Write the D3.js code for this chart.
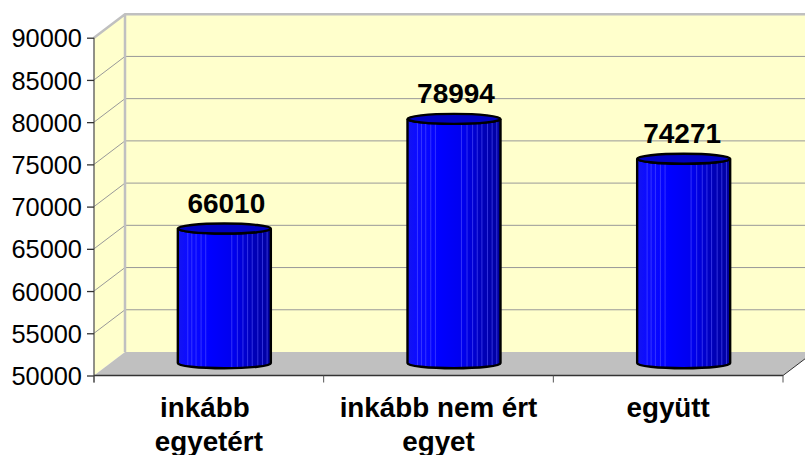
<!DOCTYPE html>
<html><head><meta charset="utf-8">
<script src="https://cdn.jsdelivr.net/npm/d3@7/dist/d3.min.js"></script>
<style>html,body{margin:0;padding:0;background:#fff}svg{display:block}
text{font-family:"Liberation Sans",Arial,sans-serif;fill:#000}</style></head>
<body><svg id="c" width="805" height="455"></svg>
<script>
const categories = [["inkább","egyetért"],["inkább nem ért","egyet"],["együtt"]];
const values = [66010,78994,74271];
const tickValues = [50000,55000,60000,65000,70000,75000,80000,85000,90000];

const W=805,H=455;
const svg=d3.select("#c");
const y=d3.scaleLinear().domain([50000,90000]).range([375.5,37.7]);
const x=d3.scaleBand().domain(d3.range(categories.length)).range([94,783]);
const dx=31,dy=-23.5;
const xR=x.range()[1], xL=x.range()[0];

const defs=svg.append("defs");
const grad=defs.append("linearGradient").attr("id","cyl");
[[0,"#1414f0"],[0.1,"#0c0cff"],[0.35,"#0000ff"],[0.6,"#0000ee"],[0.8,"#0000bb"],[1,"#00009c"]]
 .forEach(s=>grad.append("stop").attr("offset",s[0]).attr("stop-color",s[1]));
const streaks=[.107,.15,.196,.25,.30,.58,.64,.70,.75,.80,.86,.91,.96];

svg.append("polygon").attr("fill","#FFFFCC")
  .attr("points",[[xL+dx,y(90000)+dy],[W+40,y(90000)+dy],[W+40,y(50000)+dy],[xL+dx,y(50000)+dy]].join(" "));
svg.append("polygon").attr("fill","#FFFFCC")
  .attr("points",[[xL,y(90000)],[xL+dx,y(90000)+dy],[xL+dx,y(50000)+dy],[xL,y(50000)]].join(" "));
svg.append("polygon").attr("fill","#C0C0C0")
  .attr("points",[[xL,y(50000)],[xL+dx,y(50000)+dy],[xR+dx,y(50000)+dy],[xR,y(50000)]].join(" "));

const grid=tickValues.filter(t=>t>50000&&t<90000);
svg.selectAll(".gb").data(grid).join("line")
  .attr("x1",xL+dx).attr("x2",W).attr("y1",d=>y(d)+dy).attr("y2",d=>y(d)+dy)
  .attr("stroke","#999").attr("stroke-width",1);
svg.selectAll(".gs").data(grid).join("line")
  .attr("x1",xL).attr("x2",xL+dx).attr("y1",d=>y(d)).attr("y2",d=>y(d)+dy)
  .attr("stroke","#999").attr("stroke-width",1);
svg.append("path").attr("fill","none").attr("stroke","#C0C0C0").attr("stroke-width",2.5)
  .attr("d",`M${xL},${y(90000)}L${xL+dx},${y(90000)+dy}L${W},${y(90000)+dy}M${xL+dx},${y(90000)+dy}L${xL+dx},${y(50000)+dy}`);

const axL=d3.axisLeft(y).tickValues(tickValues).tickSize(7).tickPadding(5).tickFormat(d3.format("d"));
const gy=svg.append("g").attr("transform",`translate(${xL},0)`).call(axL);
gy.selectAll("path,line").attr("stroke","#333").attr("stroke-width",1.3);
gy.select("path").attr("d",`M0,${y(90000)}V${y(50000)+7}`).attr("stroke","#555");
gy.selectAll("text").attr("font-size",25.4).attr("dy","0.36em").style("font-family",'"Liberation Sans"');
gy.attr("font-family",null);

const bottom=svg.append("g");
bottom.append("line").attr("x1",xL).attr("x2",xR).attr("y1",y(50000)).attr("y2",y(50000)).attr("stroke","#333").attr("stroke-width",1.3);
bottom.selectAll(".t").data(d3.range(categories.length+1)).join("line")
  .attr("x1",i=>xL+i*x.step()).attr("x2",i=>xL+i*x.step())
  .attr("y1",y(50000)).attr("y2",y(50000)+7).attr("stroke","#555").attr("stroke-width",1);
svg.append("line").attr("x1",xR).attr("y1",y(50000)).attr("x2",xR+dx).attr("y2",y(50000)+dy)
  .attr("stroke","#333").attr("stroke-width",1);

const bw=93, ry=5;
const bars=svg.selectAll(".bar").data(values).join("g").attr("class","bar");
bars.each(function(v,i){
  const g=d3.select(this);
  const cx=x(i)+x.bandwidth()/2+dx/2;
  const yb=y(50000)+dy/2-0.5, yt=y(v)+dy/2;
  const l=cx-bw/2,r=cx+bw/2;
  const body=`M${l},${yt}L${l},${yb}A${bw/2},${ry} 0 0 0 ${r},${yb}L${r},${yt}A${bw/2},${ry} 0 0 1 ${l},${yt}Z`;
  g.append("path").attr("d",body).attr("fill","url(#cyl)");
  g.selectAll("line").data(streaks).join("line")
    .attr("x1",f=>l+f*bw).attr("x2",f=>l+f*bw)
    .attr("y1",f=>yt+ry*Math.sqrt(1-Math.pow(2*f-1,2))).attr("y2",f=>yb+ry*Math.sqrt(1-Math.pow(2*f-1,2)))
    .attr("stroke","#5a5aff").attr("stroke-opacity",.7).attr("stroke-width",.8);
  g.append("path").attr("d",body).attr("fill","none").attr("stroke","#000").attr("stroke-width",2.4);
  g.append("ellipse").attr("cx",cx).attr("cy",yt).attr("rx",bw/2).attr("ry",ry)
    .attr("fill","#0000C0").attr("stroke","#000").attr("stroke-width",2.4);
  g.append("text").attr("x",i===2?cx-1.5:cx+2).attr("y",yt-15.5).attr("text-anchor","middle")
    .attr("font-weight","bold").attr("font-size",28).text(d3.format("d")(v));
});

const labs=svg.selectAll(".cat").data(categories).join("text").attr("class","cat")
  .attr("text-anchor","middle").attr("font-weight","bold").attr("font-size",27.8);
labs.each(function(c,i){
  const cxs=x(i)+x.bandwidth()/2;
  d3.select(this).selectAll("tspan").data(c).join("tspan")
    .attr("x",(d,j)=>cxs+(i===0&&j===0?-4:0)).attr("y",(d,j)=>417+j*34).text(d=>d);
});
</script></body></html>
